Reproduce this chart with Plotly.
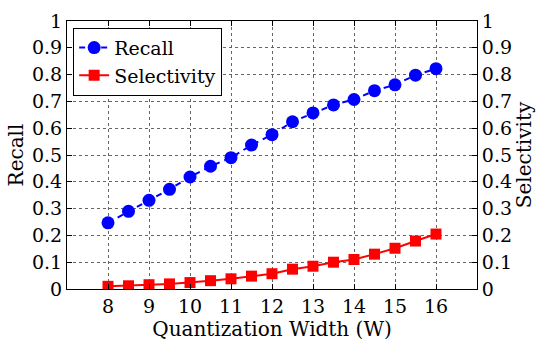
import plotly.graph_objects as go

# Quantization widths and measured curves
widths = [8, 8.5, 9, 9.5, 10, 10.5, 11, 11.5, 12, 12.5, 13, 13.5, 14, 14.5, 15, 15.5, 16]
recall = [0.247, 0.290, 0.331, 0.372, 0.418, 0.458, 0.490, 0.537, 0.576, 0.624, 0.657,
          0.687, 0.707, 0.740, 0.762, 0.798, 0.822]
selectivity = [0.010, 0.012, 0.016, 0.019, 0.024, 0.031, 0.038, 0.048, 0.057, 0.074, 0.085,
               0.100, 0.110, 0.130, 0.152, 0.179, 0.205]

x_ticks = [8, 9, 10, 11, 12, 13, 14, 15, 16]
y_ticks = [0, 0.1, 0.2, 0.3, 0.4, 0.5, 0.6, 0.7, 0.8, 0.9, 1]
y_labels = ["0", "0.1", "0.2", "0.3", "0.4", "0.5", "0.6", "0.7", "0.8", "0.9", "1"]

FONT = "DejaVu Serif"

fig = go.Figure()
fig.add_trace(go.Scatter(
    x=widths, y=recall, name="Recall", mode="lines+markers",
    line=dict(color="#0000ff", width=2, dash="6px,5px"),
    marker=dict(symbol="circle", size=13, color="#0000ff"),
))
fig.add_trace(go.Scatter(
    x=widths, y=selectivity, name="Selectivity", mode="lines+markers",
    line=dict(color="#ff0000", width=2),
    marker=dict(symbol="square", size=11, color="#ff0000"),
    yaxis="y2",
))

axis_common = dict(
    showline=True, linecolor="black", linewidth=1,
    ticks="inside", ticklen=5, tickcolor="black",
    tickfont=dict(family=FONT, size=19, color="black"),
    ticklabeloverflow="allow",
    zeroline=False,
)

fig.update_layout(
    width=539, height=347,
    margin=dict(l=67, r=62, t=10, b=58),
    paper_bgcolor="white", plot_bgcolor="white",
    font=dict(family=FONT, color="black"),
    showlegend=True,
    legend=dict(
        x=0.015, y=0.975, xanchor="left", yanchor="top",
        bgcolor="white", bordercolor="black", borderwidth=1,
        font=dict(family=FONT, size=19, color="black"),
        tracegroupgap=0, itemwidth=30,
    ),
    xaxis=dict(
        range=[7, 17], tickvals=x_ticks,
        mirror="ticks",
        showgrid=True, gridcolor="#666666", griddash="dot", gridwidth=1,
        title=dict(text="Quantization Width (W)", font=dict(family=FONT, size=20), standoff=0),
        **axis_common,
    ),
    yaxis=dict(
        range=[0, 1], tickvals=y_ticks, ticktext=y_labels,
        showgrid=True, gridcolor="#666666", griddash="dot", gridwidth=1,
        title=dict(text="Recall", font=dict(family=FONT, size=20), standoff=2),
        **axis_common,
    ),
    yaxis2=dict(
        range=[0, 1], tickvals=y_ticks, ticktext=y_labels,
        overlaying="y", side="right", showgrid=False,
        title=dict(text="Selectivity", font=dict(family=FONT, size=20), standoff=2),
        **axis_common,
    ),
)

fig.write_html("out.html")
